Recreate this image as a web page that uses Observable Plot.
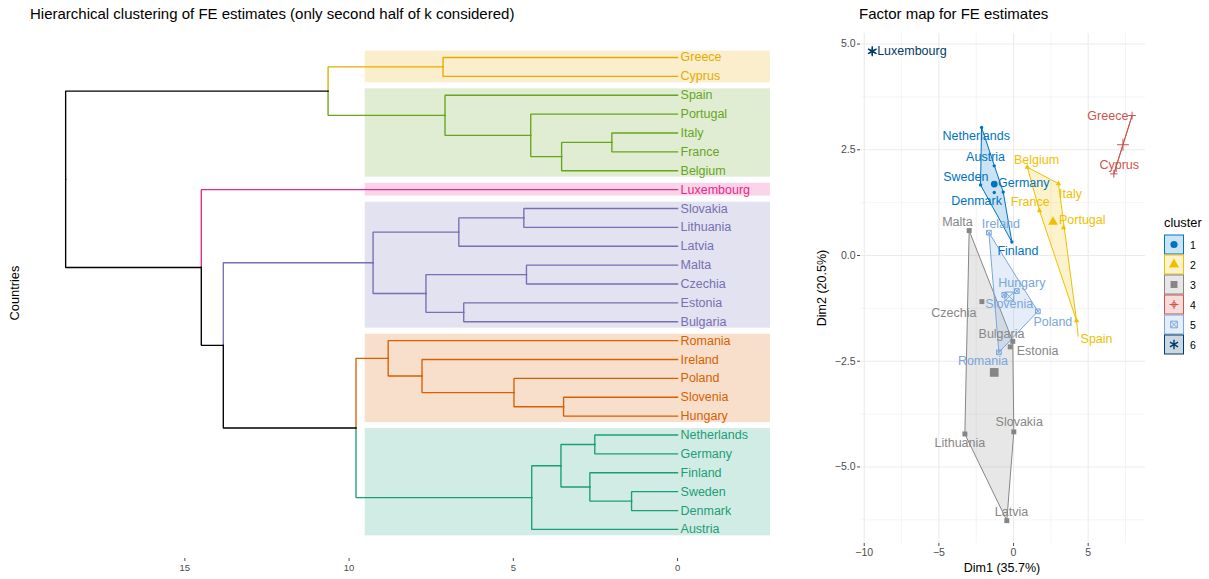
<!DOCTYPE html>
<html><head><meta charset="utf-8">
<script src="https://cdn.jsdelivr.net/npm/d3@7"></script>
<script src="https://cdn.jsdelivr.net/npm/@observablehq/plot@0.6"></script>
<style>
body{margin:0;background:#fff;}
#wrap{position:relative;width:1209px;height:579px;font-family:"Liberation Sans",Arial,Helvetica,sans-serif;overflow:hidden;background:#fff}
.abs{position:absolute;white-space:nowrap;line-height:1;color:#000}
</style></head><body><div id="wrap"></div>
<script>
// ---------------- DATA ----------------
// Dendrogram leaves (display order, top to bottom) and their cluster group
const leaves = ["Greece","Cyprus","Spain","Portugal","Italy","France","Belgium","Luxembourg",
  "Slovakia","Lithuania","Latvia","Malta","Czechia","Estonia","Bulgaria",
  "Romania","Ireland","Poland","Slovenia","Hungary",
  "Netherlands","Germany","Finland","Sweden","Denmark","Austria"];
const leafGroup = [0,0,1,1,1,1,1,2,3,3,3,3,3,3,3,4,4,4,4,4,5,5,5,5,5,5];
// Merges ("#k" refers to merge k) and their heights
const mergeA = ["Sweden","Italy","Netherlands","Finland","Slovenia","#1","#2","#6","Portugal","Malta",
  "Slovakia","Poland","Estonia","#10","Spain","Greece","#9","Ireland","Romania","#13","#18","#15","#19","Luxembourg","#21"];
const mergeB = ["Denmark","France","Germany","#0","Hungary","Belgium","#3","Austria","#5","Czechia",
  "Lithuania","#4","Bulgaria","Latvia","#8","Cyprus","#12","#11","#17","#16","#7","#14","#20","#22","#23"];
const mergeHeight = [1.40,2.00,2.52,2.67,3.47,3.53,3.55,4.44,4.47,4.60,
  4.68,4.98,6.51,6.66,7.08,7.14,7.66,7.78,8.81,9.27,9.79,10.64,13.83,14.50,18.63];
const heightTicks = [0,5,10,15];

// Factor map: individuals, coordinates, cluster
const pointNames = ["Luxembourg","Netherlands","Austria","Sweden","Germany","Denmark","Finland",
  "Belgium","Italy","France","Portugal","Spain","Greece","Cyprus",
  "Malta","Czechia","Bulgaria","Estonia","Slovakia","Lithuania","Latvia",
  "Ireland","Hungary","Slovenia","Poland","Romania"];
const dim1 = [-9.46,-2.14,-1.29,-2.21,-0.69,-1.29,-0.11,
  0.92,3.01,1.74,3.35,4.22,7.94,6.72,
  -2.97,-2.12,-0.05,-0.22,0.02,-3.26,-0.45,
  -1.65,0.22,-0.62,1.63,-0.98];
const dim2 = [4.83,3.03,2.12,1.67,1.50,1.49,0.32,
  2.09,1.70,1.06,0.66,-1.54,3.31,1.93,
  0.59,-1.09,-2.03,-2.16,-4.17,-4.22,-6.27,
  0.54,-0.84,-0.93,-1.32,-2.29];
const pointCluster = [6,1,1,1,1,1,1,2,2,2,2,2,4,4,3,3,3,3,3,3,3,5,5,5,5,5];
const clusterIds = [1,2,3,4,5,6];
const dim1Ticks = [-10,-5,0,5];
const dim2Ticks = [-5,-2.5,0,2.5,5];

// ---------------- STYLE / LAYOUT ----------------
const FONT = '"Liberation Sans", Arial, Helvetica, sans-serif';
const dendColors = ["#E6AB02","#66A61E","#E7298A","#7570B3","#D95F02","#1B9E77"];
const jco = ["#0073C2","#EFC000","#868686","#CD534C","#7AA6DC","#003C67"];
const rectLeft = 9.51, rectPad = 0.34;
const symCfg = {
  1:{s:"circle",  filled:true,  r:1.7, R:3.4, sw:1},
  2:{s:"triangle",filled:true,  r:2.0, R:3.6, sw:1},
  3:{s:"square",  filled:true,  r:2.8, R:4.9, sw:1},
  4:{s:"plus",    filled:false, r:2.6, R:3.9, sw:1},
  5:{s:"square2", filled:false, r:3.0, R:5.6, sw:1},
  6:{s:"asterisk",filled:false, r:3.6, R:4.7, sw:1.4}
};
// label offsets (px) from point to label centre (repelled layout)
const labelOff = {Luxembourg:[39.6,0],Netherlands:[-5.3,9],Austria:[-8.7,-8.6],Sweden:[-14.7,-7.6],
  Germany:[20.6,-8.7],Denmark:[-17.7,8.7],Finland:[6,9],Belgium:[9.3,-7],Italy:[12,10],France:[-9.3,-8.3],
  Portugal:[18.7,-8],Spain:[20,18.7],Greece:[-24.2,0],Cyprus:[5.4,-8.8],Malta:[-11.7,-8.3],Czechia:[-28,11],
  Bulgaria:[-11.3,-7.7],Estonia:[27.3,4.4],Slovakia:[5.4,-9.6],Lithuania:[-5,9.4],Latvia:[4.7,-8.7],
  Ireland:[12,-9],Hungary:[5,-8],Slovenia:[5,9],Poland:[15,10.7],Romania:[-16,9]};
const segmentOff = {Spain:[1.7,16]};

const wrap = document.getElementById("wrap");
function addText(txt, x, y, size, opts = {}) {
  const d = document.createElement("div");
  d.className = "abs";
  d.textContent = txt;
  d.style.fontSize = size + "px";
  d.style.left = x + "px"; d.style.top = y + "px";
  if (opts.center) d.style.transform = "translate(-50%,-50%)" + (opts.rotate ? " rotate(-90deg)" : "");
  wrap.appendChild(d);
}

// ---------------- DENDROGRAM ----------------
const leafIndex = new Map(leaves.map((d,i)=>[d,i]));
const nodes = [];
function info(ref){
  if (ref.startsWith("#")) return nodes[+ref.slice(1)];
  const i = leafIndex.get(ref);
  return {h:0, y:i, groups:new Set([leafGroup[i]])};
}
mergeA.forEach((a,k)=>{
  const A = info(a), B = info(mergeB[k]);
  nodes.push({h:mergeHeight[k], y:(A.y+B.y)/2, groups:new Set([...A.groups,...B.groups]), children:[A,B]});
});
const colorOf = n => n.groups.size === 1 ? dendColors[[...n.groups][0]] : "#000000";
const branchPts = [];
nodes.forEach((n,k)=>n.children.forEach((c,j)=>{
  const id = k+"-"+j, col = colorOf(c);
  branchPts.push({id,col,h:c.h,y:c.y},{id,col,h:n.h,y:c.y},{id,col,h:n.h,y:n.y});
}));
const rects = d3.groups(leaves.map((d,i)=>({i,g:leafGroup[i]})), d=>d.g)
  .map(([g,arr])=>({col:dendColors[g], lo:d3.min(arr,d=>d.i), hi:d3.max(arr,d=>d.i)}));

const xDomL = [19.70, -2.83];
const left = Plot.plot({
  width: 800, height: 579, marginLeft: 30, marginRight: 30, marginTop: 40, marginBottom: 21,
  x: {domain: xDomL, label: null},
  y: {domain: [26.54, -0.9], axis: null},
  color: {type: "identity"},
  style: {fontFamily: FONT, fontSize: "10px", background: "transparent", overflow: "visible"},
  marks: [
    Plot.rect(rects, {x1: () => rectLeft, x2: () => xDomL[1], y1: d => d.lo - rectPad, y2: d => d.hi + rectPad,
      fill: "col", fillOpacity: 0.2}),
    Plot.line(branchPts, {x: "h", y: "y", z: "id", stroke: "col", strokeWidth: 1.35, strokeLinejoin: "miter", strokeLinecap: "square"}),
    Plot.text(leaves, {x: () => 0, y: (d,i) => i, text: d => d, fill: (d,i) => dendColors[leafGroup[i]],
      textAnchor: "start", dx: 3, fontSize: 12.5}),
    Plot.axisX({ticks: heightTicks, tickSize: 3, tickPadding: 3, fontSize: 9.5, color: "#4d4d4d", label: null})
  ]
});
left.style.position = "absolute"; left.style.left = "0px"; left.style.top = "0px";
wrap.appendChild(left);

// ---------------- FACTOR MAP ----------------
const pts = pointNames.map((n,i)=>({name:n, x:dim1[i], y:dim2[i], c:pointCluster[i]}));
const cents = d3.groups(pts, d=>d.c).map(([c,arr])=>({c, x:d3.mean(arr,d=>d.x), y:d3.mean(arr,d=>d.y)}));
const W = 360, H = 579, mL = 60, mR = 15, mT = 33, mB = 36;
const xDom = [-10.25, 8.84], yDom = [-6.81, 5.25];
const kx = (W - mL - mR) / (xDom[1] - xDom[0]);
const ky = (H - mT - mB) / (yDom[1] - yDom[0]);

function symbolMarks(c, data, big) {
  const cfg = symCfg[c], col = jco[c-1], r = big ? cfg.R : cfg.r;
  const base = {x: "x", y: "y", r, symbol: cfg.s};
  const m = [cfg.filled ? Plot.dot(data, {...base, fill: col, stroke: "none"})
                        : Plot.dot(data, {...base, fill: "none", stroke: col, strokeWidth: cfg.sw})];
  if (c === 5) m.push(Plot.dot(data, {x: "x", y: "y", r: r * 0.72, symbol: "times", fill: "none", stroke: col, strokeWidth: 1}));
  return m;
}

const right = Plot.plot({
  width: W, height: H, marginLeft: mL, marginRight: mR, marginTop: mT, marginBottom: mB,
  x: {domain: xDom, label: null},
  y: {domain: yDom, label: null},
  color: {type: "ordinal", domain: clusterIds, range: jco},
  style: {fontFamily: FONT, fontSize: "10.5px", background: "transparent", overflow: "visible"},
  marks: [
    Plot.gridX({ticks: [-7.5,-2.5,2.5,7.5], stroke: "#EBEBEB", strokeOpacity: 1, strokeWidth: 0.55}),
    Plot.gridY({ticks: [-6.25,-3.75,-1.25,1.25,3.75], stroke: "#EBEBEB", strokeOpacity: 1, strokeWidth: 0.55}),
    Plot.gridX({ticks: dim1Ticks, stroke: "#EBEBEB", strokeOpacity: 1, strokeWidth: 1.07}),
    Plot.gridY({ticks: dim2Ticks, stroke: "#EBEBEB", strokeOpacity: 1, strokeWidth: 1.07}),
    Plot.hull(pts, {x: "x", y: "y", z: "c", fill: "c", stroke: "c", fillOpacity: 0.2, strokeWidth: 1}),
    Plot.link(pts.filter(d => segmentOff[d.name]), {x1: "x", y1: "y",
      x2: d => d.x + segmentOff[d.name][0] / kx, y2: d => d.y - segmentOff[d.name][1] / ky,
      stroke: "c", strokeWidth: 1}),
    ...clusterIds.flatMap(c => symbolMarks(c, pts.filter(d => d.c === c), false)),
    ...clusterIds.flatMap(c => symbolMarks(c, cents.filter(d => d.c === c), true)),
    Plot.text(pts, {x: d => d.x + labelOff[d.name][0] / kx, y: d => d.y - labelOff[d.name][1] / ky,
      text: "name", fill: "c", fontSize: 12.5}),
    Plot.axisX({ticks: dim1Ticks, tickFormat: d3.format("d"), tickSize: 3, tickPadding: 2, fontSize: 10.5, color: "#4d4d4d", label: null}),
    Plot.axisY({ticks: dim2Ticks, tickFormat: d3.format(".1f"), tickSize: 3, tickPadding: 2, fontSize: 10.5, color: "#4d4d4d", label: null})
  ]
});
right.style.position = "absolute"; right.style.left = "800px"; right.style.top = "0px";
wrap.appendChild(right);

// ---------------- LEGEND ----------------
const d3sym = {circle: d3.symbolCircle, triangle: d3.symbolTriangle, square: d3.symbolSquare,
  plus: d3.symbolPlus, square2: d3.symbolSquare2, asterisk: d3.symbolAsterisk, times: d3.symbolTimes};
const legendR = {1:3.6, 2:3.8, 3:3.9, 4:3.0, 5:4.2, 6:4.4};
const lg = d3.select(wrap).append("svg").attr("width", 59).attr("height", 170)
  .style("position","absolute").style("left","1150px").style("top","200px")
  .style("font-family", FONT);
lg.append("text").attr("x", 14).attr("y", 22.7).attr("dominant-baseline","central")
  .attr("font-size", 12.8).text("cluster");
clusterIds.forEach((c,i)=>{
  const col = jco[c-1], cfg = symCfg[c], y0 = 35 + i*20;
  lg.append("rect").attr("x", 14.5).attr("y", y0).attr("width", 19).attr("height", 19)
    .attr("fill", col).attr("fill-opacity", 0.2).attr("stroke", col).attr("stroke-width", 1);
  const g = lg.append("g").attr("transform", `translate(24,${y0+9.5})`);
  const r = legendR[c];
  g.append("path").attr("d", d3.symbol(d3sym[cfg.s], Math.PI*r*r)())
    .attr("fill", cfg.filled ? col : "none").attr("stroke", cfg.filled ? "none" : col).attr("stroke-width", cfg.sw);
  if (c === 4) g.append("circle").attr("r", 2.2).attr("fill", "none").attr("stroke", col).attr("stroke-width", 0.8);
  if (c === 5) g.append("path").attr("d", d3.symbol(d3sym.times, Math.PI*(r*0.72)**2)())
    .attr("fill","none").attr("stroke", col).attr("stroke-width", 1);
  lg.append("text").attr("x", 40).attr("y", y0 + 9.5).attr("dominant-baseline","central")
    .attr("font-size", 10.5).text(String(c));
});

// ---------------- TITLES ----------------
addText("Hierarchical clustering of FE estimates (only second half of k considered)", 30, 6, 15);
addText("Factor map for FE estimates", 859, 6, 15);
addText("Countries", 15, 293, 12.8, {center: true, rotate: true});
addText("Dim1 (35.7%)", 1002, 568, 12.5, {center: true});
addText("Dim2 (20.5%)", 822, 288, 12.5, {center: true, rotate: true});
</script></body></html>
